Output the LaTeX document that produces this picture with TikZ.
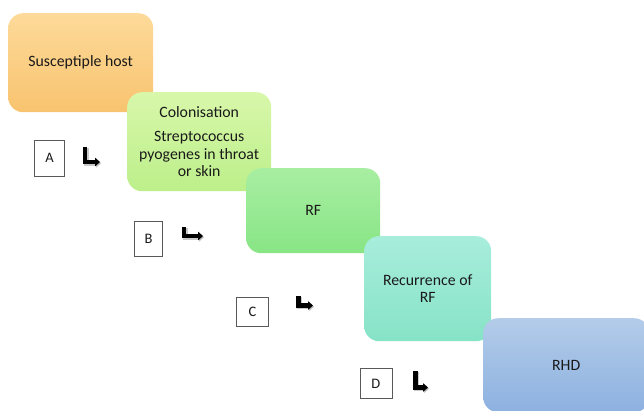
\documentclass[tikz,border=0pt]{standalone}
\usepackage{fontspec}
\setmainfont{Carlito}
\usetikzlibrary{arrows.meta}
\definecolor{oT}{HTML}{FDDA9A}
\definecolor{oB}{HTML}{F8C36F}
\definecolor{lgT}{HTML}{D8F7AA}
\definecolor{lgB}{HTML}{BCEF8A}
\definecolor{gT}{HTML}{A8EEA2}
\definecolor{gB}{HTML}{88E585}
\definecolor{tT}{HTML}{A8EDDC}
\definecolor{tB}{HTML}{86E3C6}
\definecolor{bT}{HTML}{B3CCE9}
\definecolor{bB}{HTML}{8DB1E0}
\definecolor{txt}{HTML}{1A1A1A}
\begin{document}
\begin{tikzpicture}[x=1pt,y=-1pt,
  stage/.style={rectangle, rounded corners=15pt, anchor=north west, inner sep=0pt,
    align=center, text=txt, font=\fontsize{15.8}{17.5}\selectfont},
  lbl/.style={rectangle, draw=black!65, line width=0.9pt, fill=white, anchor=north west,
    inner sep=0pt, text=txt, font=\fontsize{14.5}{16}\selectfont},
  bendarrow/.style={line width=4.6pt, line join=miter, -{Triangle[length=5pt,width=8.5pt]}},
  bendshadow/.style={bendarrow, draw=black!35, opacity=0.6}
]
\useasboundingbox (0,0) rectangle (644,410);
\clip (0,0) rectangle (644,410);

% stage boxes
\node[stage, top color=oT, bottom color=oB, minimum width=145pt, minimum height=99pt] (host) at (8,13) {Susceptiple host};
\node[stage, top color=lgT, bottom color=lgB, minimum width=144pt, minimum height=99pt] (colon) at (127,92) {Colonisation\\[7pt]Streptococcus\\pyogenes in throat\\or skin};
\node[stage, top color=gT, bottom color=gB, minimum width=134pt, minimum height=85pt] (rf) at (246,168) {RF};
\node[stage, top color=tT, bottom color=tB, minimum width=127pt, minimum height=105pt] (recur) at (364,236) {Recurrence of\\RF};
\node[stage, top color=bT, bottom color=bB, minimum width=166pt, minimum height=94pt] (rhd) at (483,318) {RHD};

% label boxes
\node[lbl, minimum width=30pt, minimum height=36pt] (la) at (34,139.5) {A};
\node[lbl, minimum width=28pt, minimum height=35pt] (lb) at (134,221) {B};
\node[lbl, minimum width=32pt, minimum height=29pt] (lc) at (236,297) {C};
\node[lbl, minimum width=32pt, minimum height=30pt] (ld) at (359.5,368) {D};

% bent arrows
\coordinate (a1) at (85,147);  \coordinate (a2) at (85,162);  \coordinate (a3) at (100,162);
\coordinate (b1) at (184,227); \coordinate (b2) at (184,236); \coordinate (b3) at (203,236);
\coordinate (c1) at (298.5,296); \coordinate (c2) at (298.5,305.5); \coordinate (c3) at (313,305.5);
\coordinate (d1) at (415.5,371); \coordinate (d2) at (415.5,387.5); \coordinate (d3) at (428,387.5);
\foreach \p in {a,b,c,d}{
  \draw[bendshadow, transform canvas={xshift=1.2pt,yshift=-1.2pt}] (\p1) -- (\p2) -- (\p3);
  \draw[bendarrow] (\p1) -- (\p2) -- (\p3);
}
\end{tikzpicture}
\end{document}
